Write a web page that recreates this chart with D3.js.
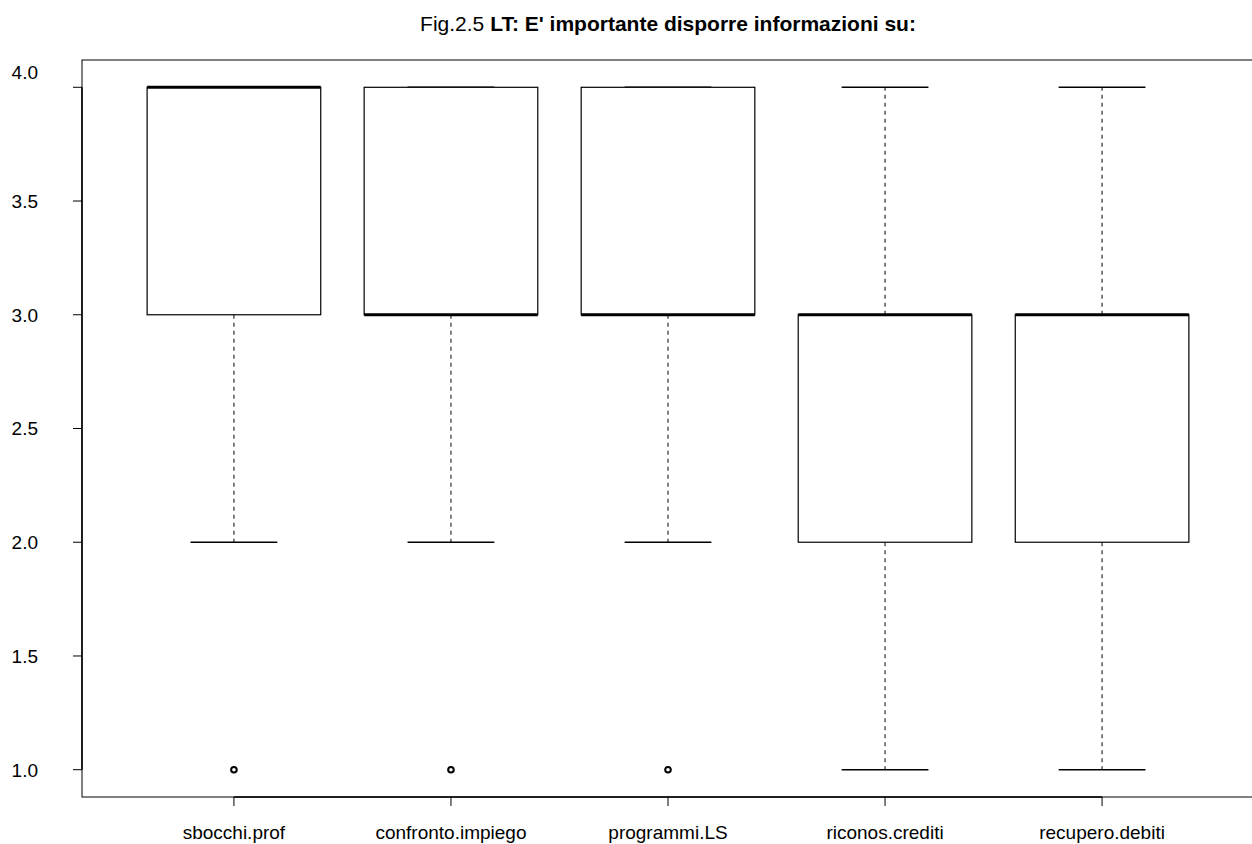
<!DOCTYPE html>
<html>
<head>
<meta charset="utf-8">
<script src="https://cdn.jsdelivr.net/npm/d3@7"></script>
<style>
  html, body { margin: 0; padding: 0; background: #fff; }
  svg { display: block; }
  text { font-family: "Liberation Sans", Arial, sans-serif; fill: #000; }
</style>
</head>
<body>
<svg id="chart" width="1252" height="844"></svg>
<script>
// Five-number summaries per item (scores 1–4)
const categories = ["sbocchi.prof", "confronto.impiego", "programmi.LS", "riconos.crediti", "recupero.debiti"];
const lowerWhisker = [2, 2, 2, 1, 1];
const lowerQuartile = [3, 3, 3, 2, 2];
const medians = [4, 3, 3, 3, 3];
const upperQuartile = [4, 4, 4, 3, 3];
const upperWhisker = [4, 4, 4, 4, 4];
const outliers = [[1], [1], [1], [], []];
const yTicks = [1.0, 1.5, 2.0, 2.5, 3.0, 3.5, 4.0];

const svg = d3.select("#chart");

// Plot region, with the usual 4% padding around the data range
const x = d3.scaleLinear().domain([0.3, 5.7]).range([82, 1254]);
const y = d3.scaleLinear().domain([0.88, 4.12]).range([797, 60]);

const boxHalf = 0.4;   // half box width in category units
const capHalf = 0.2;   // half whisker-cap width

// Title: plain prefix followed by bold text
const title = svg.append("text")
  .attr("x", (x.range()[0] + x.range()[1]) / 2)
  .attr("y", 31)
  .attr("text-anchor", "middle")
  .style("font-size", "21px");
title.append("tspan").text("Fig.2.5 ");
title.append("tspan").style("font-weight", "bold").text("LT: E' importante disporre informazioni su:");

// Frame around the plot
svg.append("rect")
  .attr("x", x.range()[0]).attr("y", y.range()[1])
  .attr("width", x.range()[1] - x.range()[0])
  .attr("height", y.range()[0] - y.range()[1])
  .attr("fill", "none").attr("stroke", "#000").attr("stroke-width", 1);

// Boxes
const idx = d3.range(categories.length);
const g = svg.append("g");

idx.forEach(i => {
  const cx = x(i + 1);
  // dashed whiskers
  [[upperQuartile[i], upperWhisker[i]], [lowerQuartile[i], lowerWhisker[i]]].forEach(([a, b]) => {
    if (a !== b) {
      g.append("line")
        .attr("x1", cx).attr("x2", cx)
        .attr("y1", y(a)).attr("y2", y(b))
        .attr("stroke", "#000").attr("stroke-width", 1)
        .attr("stroke-dasharray", "4,4");
    }
  });
  // whisker caps
  [upperWhisker[i], lowerWhisker[i]].forEach(v => {
    g.append("line")
      .attr("x1", x(i + 1 - capHalf)).attr("x2", x(i + 1 + capHalf))
      .attr("y1", y(v)).attr("y2", y(v))
      .attr("stroke", "#000").attr("stroke-width", 1.6);
  });
  // box
  g.append("rect")
    .attr("x", x(i + 1 - boxHalf))
    .attr("y", y(upperQuartile[i]))
    .attr("width", x(i + 1 + boxHalf) - x(i + 1 - boxHalf))
    .attr("height", y(lowerQuartile[i]) - y(upperQuartile[i]))
    .attr("fill", "#fff").attr("stroke", "#000").attr("stroke-width", 1.2);
  // median
  g.append("line")
    .attr("x1", x(i + 1 - boxHalf)).attr("x2", x(i + 1 + boxHalf))
    .attr("y1", y(medians[i])).attr("y2", y(medians[i]))
    .attr("stroke", "#000").attr("stroke-width", 3);
  // outlying points
  outliers[i].forEach(v => {
    g.append("circle")
      .attr("cx", cx).attr("cy", y(v)).attr("r", 2.8)
      .attr("fill", "none").attr("stroke", "#000").attr("stroke-width", 2);
  });
});

// Left axis
const yAxis = svg.append("g").attr("transform", `translate(${x.range()[0]},0)`);
yAxis.append("line")
  .attr("x1", 0).attr("x2", 0)
  .attr("y1", y(yTicks[0])).attr("y2", y(yTicks[yTicks.length - 1]))
  .attr("stroke", "#000").attr("stroke-width", 1.5);
yTicks.forEach((v, k) => {
  yAxis.append("line")
    .attr("x1", -9).attr("x2", 0).attr("y1", y(v)).attr("y2", y(v))
    .attr("stroke", "#000").attr("stroke-width", 1);
  // the top label sits a little above its tick
  const nudge = k === yTicks.length - 1 ? -15 : 0;
  yAxis.append("text")
    .attr("x", -44).attr("y", y(v) + nudge)
    .attr("dy", "0.36em")
    .attr("text-anchor", "end")
    .style("font-size", "19px")
    .text(d3.format(".1f")(v));
});

// Bottom axis
const xAxis = svg.append("g").attr("transform", `translate(0,${y.range()[0]})`);
xAxis.append("line")
  .attr("x1", x(1)).attr("x2", x(categories.length))
  .attr("y1", 0).attr("y2", 0)
  .attr("stroke", "#000").attr("stroke-width", 1.5);
idx.forEach(i => {
  xAxis.append("line")
    .attr("x1", x(i + 1)).attr("x2", x(i + 1))
    .attr("y1", 0).attr("y2", 9)
    .attr("stroke", "#000").attr("stroke-width", 1);
  xAxis.append("text")
    .attr("x", x(i + 1)).attr("y", 42)
    .attr("text-anchor", "middle")
    .style("font-size", "19px")
    .text(categories[i]);
});
</script>
</body>
</html>
